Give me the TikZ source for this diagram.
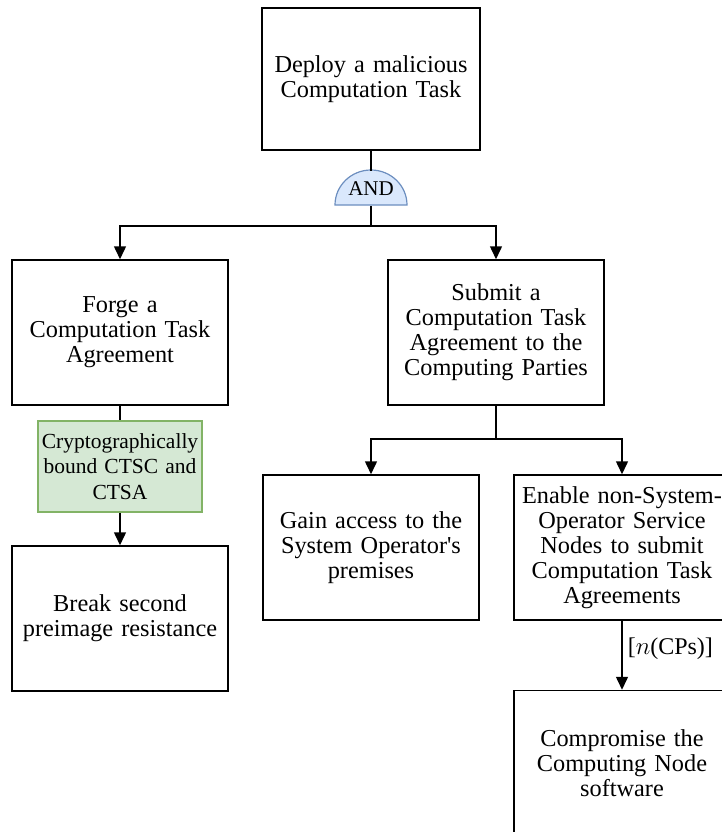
\documentclass[tikz,border=0pt]{standalone}
\usepackage{fontspec}
\setmainfont{Liberation Serif}
\usetikzlibrary{arrows.meta}
\definecolor{gatefill}{HTML}{DAE8FC}
\definecolor{gateline}{HTML}{6C8EBF}
\definecolor{notefill}{HTML}{D5E8D4}
\definecolor{noteline}{HTML}{82B366}
\begin{document}
\begin{tikzpicture}[x=1pt,y=-1pt,
  every node/.style={font=\fontsize{24.3}{25}\selectfont, align=center, inner sep=0pt},
  goal/.style={draw, line width=1.5pt, minimum width=216pt, minimum height=145pt, text width=212pt},
  note/.style={draw=noteline, fill=notefill, line width=1.5pt, minimum width=164pt, minimum height=91pt, text width=162pt, font=\fontsize{21.5}{25.5}\selectfont},
  link/.style={line width=1.5pt, -{Triangle[length=13pt,width=12pt]}},
  plain/.style={line width=1.5pt}]
\useasboundingbox (0,0) rectangle (722,832);

% goal boxes
\node[goal, minimum width=218pt, minimum height=142pt] (deploy) at (371,79) {Deploy a malicious\\Computation Task};
\node[goal] (forge) at (120,332.5) {Forge a\\Computation Task\\Agreement};
\node[goal] (submit) at (496,332.5) {Submit a\\Computation Task\\Agreement to the\\Computing Parties};
\node[note] (bound) at (120,466.5) {Cryptographically\\bound CTSC and\\CTSA};
\node[goal] (preimage) at (120,618.5) {Break second\\preimage resistance};
\node[goal] (access) at (371,547.5) {Gain access to the\\System Operator\textquotesingle s\\premises};
\node[goal] (enable) at (622,547.5) {Enable non-System-\\Operator Service\\Nodes to submit\\Computation Task\\Agreements};
\node[goal] (software) at (622,763) {Compromise the\\Computing Node\\software};

% AND gate
\fill[gatefill] (335,205) .. controls (335,185.7) and (351.1,170) .. (371,170)
  .. controls (390.9,170) and (407,185.7) .. (407,205) -- cycle;
\draw[gateline, line width=1.2pt] (335,205) .. controls (335,185.7) and (351.1,170) .. (371,170)
  .. controls (390.9,170) and (407,185.7) .. (407,205) -- cycle;
\node[minimum width=72pt, minimum height=35pt, font=\fontsize{21}{24}\selectfont] (and) at (371,188.5) {AND};

% connectors
\draw[plain] (deploy.south) -- (and.north);
\draw[link] (and.south) -- ++(0,20) -| (forge.north);
\draw[link] (and.south) -- ++(0,20) -| (submit.north);
\draw[plain] (forge.south) -- (bound.north);
\draw[link] (bound.south) -- (preimage.north);
\draw[link] (submit.south) -- ++(0,33) -| (access.north);
\draw[link] (submit.south) -- ++(0,33) -| (enable.north);
\draw[link] (enable.south) -- node[pos=0.4, right=5pt, font=\fontsize{24}{26}\selectfont] (count) {[$n$(CPs)]} (software.north);
\end{tikzpicture}
\end{document}
